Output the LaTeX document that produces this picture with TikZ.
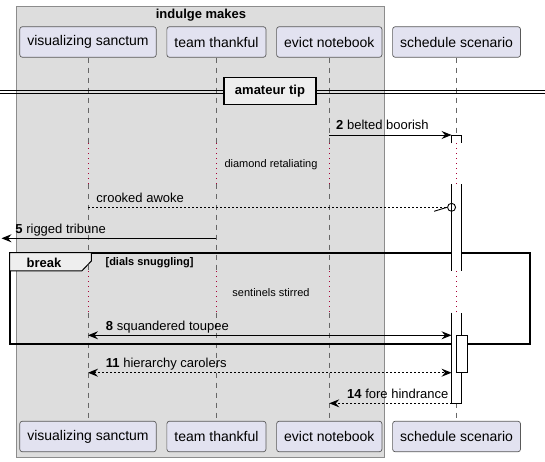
\documentclass[tikz,border=0pt]{standalone}
\usepackage{fontspec}
\setmainfont{Liberation Sans}
\usetikzlibrary{arrows.meta,positioning}
\definecolor{partfill}{HTML}{E2E2F0}
\definecolor{grpfill}{HTML}{DDDDDD}
\definecolor{tabfill}{HTML}{EEEEEE}
\definecolor{delayred}{HTML}{A80036}

\begin{document}
\begin{tikzpicture}[x=1pt,y=-1pt,>={Stealth[length=10pt,width=8pt,inset=3.5pt]},
  part/.style={draw=black!65,fill=partfill,rounded corners=2.5pt,line width=0.7pt,minimum height=30.5pt,inner xsep=7.5pt,font=\fontsize{14}{16}\selectfont},
  msg/.style={->,line width=0.9pt},
  ret/.style={msg,dash pattern=on 2pt off 2pt},
  lbl/.style={inner sep=0pt,anchor=base west,yshift=5pt,font=\fontsize{13}{15}\selectfont},
  pausetxt/.style={font=\fontsize{11}{13}\selectfont},
  life/.style={draw=black!60,line width=0.7pt,dash pattern=on 5pt off 5pt},
  pause/.style={draw=delayred,line width=0.9pt,dash pattern=on 1pt off 4pt},
  side/.style={line width=0.9pt}]

\useasboundingbox (0,0) rectangle (545,462);

\coordinate (d1a) at (0,143.5);
\coordinate (d1b) at (0,184.5);
\coordinate (d2a) at (0,271);
\coordinate (d2b) at (0,312.5);
\coordinate (m2) at (0,135);
\coordinate (m3) at (0,207.3);
\coordinate (m5) at (0,238.3);
\coordinate (m8) at (0,335.3);
\coordinate (m11) at (0,372.7);
\coordinate (m14) at (0,403.3);
\coordinate (bot) at (0,436.5);

\node[draw=black!45,fill=grpfill,line width=0.8pt,minimum width=368.4pt,minimum height=450.6pt,inner sep=0pt](grp) at (200.5,232){};
\node[font=\bfseries\fontsize{13}{15}\selectfont](grptitle) at (201,15){indulge makes};

\node[part](vs) at (88,42){visualizing sanctum};
\node[part](tt)[right=10pt of vs]{team thankful};
\node[part](en)[right=10pt of tt]{evict notebook};
\node[part](ss)[right=10pt of en]{schedule scenario};
\node[part](vs-b) at (vs |- bot){visualizing sanctum};
\node[part](tt-b)[right=10pt of vs-b]{team thankful};
\node[part](en-b)[right=10pt of tt-b]{evict notebook};
\node[part](ss-b)[right=10pt of en-b]{schedule scenario};

\foreach \p in {vs,tt,en,ss}{
  \draw[life] (\p.south) -- (\p.south |- d1a);
  \draw[pause] (\p.south |- d1a) -- (\p.south |- d1b);
  \draw[life] (\p.south |- d1b) -- (\p.south |- d2a);
  \draw[pause] (\p.south |- d2a) -- (\p.south |- d2b);
  \draw[life] (\p.south |- d2b) -- (\p-b.north);
}

\node[pausetxt](pause1) at (271,165){diamond retaliating};
\node[pausetxt](pause2) at (271,293){sentinels stirred};

\draw[line width=0.9pt] (0,90) -- (545,90) (0,93.5) -- (545,93.5);
\node[draw,line width=1.5pt,fill=tabfill,minimum width=91.8pt,minimum height=26.6pt,inner sep=0pt,font=\bfseries\fontsize{13}{15}\selectfont](div) at (270,91){amateur tip};

\node[draw,line width=1.5pt,minimum width=519.3pt,minimum height=90pt,inner sep=0pt](brk) at (270,298.3){};
\draw[line width=1pt,fill=tabfill] (brk.north west) -- ++(81.8,0) -- ++(0,8.4) -- ++(-9.6,10) -- ++(-72.2,0) -- cycle;
\draw[line width=1.5pt] (brk.north west) rectangle (brk.south east);
\node[font=\bfseries\fontsize{13}{15}\selectfont](brklbl) at (44,262.5){break};
\node[font=\bfseries\fontsize{11}{13}\selectfont,anchor=west,inner sep=0pt](brkcond) at (105.4,262.5){[dials snuggling]};

\coordinate (b1l) at ([xshift=-5pt]ss.center);
\coordinate (b1r) at ([xshift=5pt]ss.center);
\coordinate (b2l) at (ss.center);
\coordinate (b2r) at ([xshift=10.4pt]ss.center);
\coordinate (left5) at (1.5,0);

\fill[white] (b1l |- m2) rectangle (b1r |- d1a);
\draw[side] (b1l |- d1a) -- (b1l |- m2) -- (b1r |- m2) -- (b1r |- d1a);
\fill[white] (b1l |- d1b) rectangle (b1r |- d2a);
\draw[side] (b1l |- d1b) -- (b1l |- d2a) (b1r |- d1b) -- (b1r |- d2a);
\fill[white] (b1l |- d2b) rectangle (b1r |- m14);
\draw[side] (b1l |- d2b) -- (b1l |- m14) -- (b1r |- m14) -- (b1r |- d2b);
\draw[side,fill=white] (b2l |- m8) rectangle (b2r |- m11);

\draw[msg] (en |- m2) -- node[lbl,at start,xshift=6.5pt]{\textbf{2} belted boorish} (b1l |- m2);

\node[circle,draw,line width=0.9pt,minimum size=8pt,inner sep=0pt](lost) at (b1l |- m3){};
\draw[ret,-] (vs |- m3) -- node[lbl,at start,xshift=8pt]{crooked awoke} (lost.west);
\draw[side] (lost.west) -- ++(-13,4);

\draw[msg] (tt |- m5) -- node[lbl,at end,xshift=13.5pt]{\textbf{5} rigged tribune} (left5 |- m5);
\draw[msg,<->] (vs |- m8) -- node[lbl,at start,xshift=17.5pt]{\textbf{8} squandered toupee} (b1l |- m8);
\draw[ret,<->] (vs |- m11) -- node[lbl,at start,xshift=17.5pt]{\textbf{11} hierarchy carolers} (b1l |- m11);
\draw[ret] (b1l |- m14) -- node[lbl,at end,xshift=17.5pt]{\textbf{14} fore hindrance} (en |- m14);

\end{tikzpicture}
\end{document}
